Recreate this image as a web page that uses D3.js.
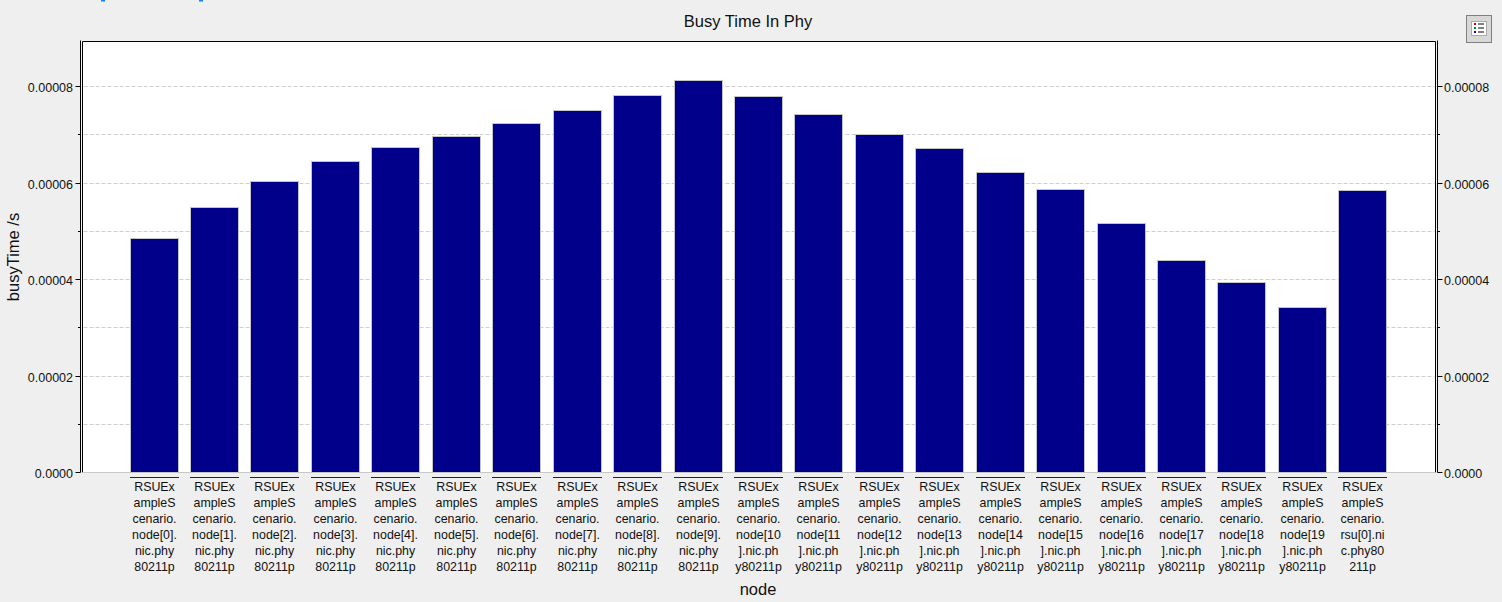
<!DOCTYPE html>
<html><head><meta charset="utf-8">
<style>html,body{margin:0;padding:0;background:#efefef;overflow:hidden}svg{display:block}text{font-family:"Liberation Sans",Arial,sans-serif;fill:#111}</style>
<script src="https://cdn.jsdelivr.net/npm/d3@7/dist/d3.min.js"></script>
</head><body><script>
const categories = [
 "RSUEx|ampleS|cenario.|node[0].|nic.phy|80211p","RSUEx|ampleS|cenario.|node[1].|nic.phy|80211p",
 "RSUEx|ampleS|cenario.|node[2].|nic.phy|80211p","RSUEx|ampleS|cenario.|node[3].|nic.phy|80211p",
 "RSUEx|ampleS|cenario.|node[4].|nic.phy|80211p","RSUEx|ampleS|cenario.|node[5].|nic.phy|80211p",
 "RSUEx|ampleS|cenario.|node[6].|nic.phy|80211p","RSUEx|ampleS|cenario.|node[7].|nic.phy|80211p",
 "RSUEx|ampleS|cenario.|node[8].|nic.phy|80211p","RSUEx|ampleS|cenario.|node[9].|nic.phy|80211p",
 "RSUEx|ampleS|cenario.|node[10|].nic.ph|y80211p","RSUEx|ampleS|cenario.|node[11|].nic.ph|y80211p",
 "RSUEx|ampleS|cenario.|node[12|].nic.ph|y80211p","RSUEx|ampleS|cenario.|node[13|].nic.ph|y80211p",
 "RSUEx|ampleS|cenario.|node[14|].nic.ph|y80211p","RSUEx|ampleS|cenario.|node[15|].nic.ph|y80211p",
 "RSUEx|ampleS|cenario.|node[16|].nic.ph|y80211p","RSUEx|ampleS|cenario.|node[17|].nic.ph|y80211p",
 "RSUEx|ampleS|cenario.|node[18|].nic.ph|y80211p","RSUEx|ampleS|cenario.|node[19|].nic.ph|y80211p",
 "RSUEx|ampleS|cenario.|rsu[0].ni|c.phy80|211p"];
const busyTime = [4.85,5.49,6.03,6.45,6.74,6.96,7.23,7.50,7.81,8.13,7.80,7.42,7.01,6.72,6.22,5.87,5.16,4.39,3.94,3.42,5.85].map(v=>v*1e-5);
const majorTicks = [0,2e-5,4e-5,6e-5,8e-5];
const minorTicks = [1e-5,3e-5,5e-5,7e-5];
const tickLabels = ["0.0000","0.00002","0.00004","0.00006","0.00008"];
const titleText = "Busy Time In Phy", xTitle = "node", yTitle = "busyTime /s";

const svg = d3.select("body").append("svg").attr("width",1502).attr("height",602);
const L=82.5,R=1435.5,T=41.5,B=472.5;
const x = d3.scaleBand().domain(categories.map((d,i)=>i)).range([129.6,1386.4]).paddingInner(0.205).paddingOuter(0);
const y = d3.scaleLinear().domain([0,431/48.25*1e-5]).range([B,T]);
const py = v=>Math.round(y(v)-0.5)+0.5;

svg.append("rect").attr("x",L).attr("y",T).attr("width",R-L).attr("height",B-T).attr("fill","#fff");

// grid
svg.append("g").selectAll("line").data([...majorTicks.slice(1),...minorTicks]).join("line")
 .attr("x1",L+1).attr("x2",R-1).attr("y1",py).attr("y2",py)
 .attr("stroke","#cfcfcf").attr("stroke-dasharray","4,2");

// frame
svg.append("line").attr("x1",L).attr("x2",R).attr("y1",T).attr("y2",T).attr("stroke","#000");
svg.append("line").attr("x1",L).attr("x2",L).attr("y1",T).attr("y2",B).attr("stroke","#000");
svg.append("line").attr("x1",R).attr("x2",R).attr("y1",T).attr("y2",B).attr("stroke","#000");
svg.append("line").attr("x1",L).attr("x2",R).attr("y1",B).attr("y2",B).attr("stroke","#c8c8c8");

// bars
svg.append("g").selectAll("rect").data(busyTime).join("rect")
 .attr("x",(d,i)=>Math.round(x(i))+0.5).attr("width",48)
 .attr("y",d=>py(d)).attr("height",d=>B-py(d))
 .attr("fill","#00008b").attr("stroke","#c4c4c4");

// left / right axes
function axis(side){
  const xa = side<0 ? 80.5 : 1437.5;
  const g = svg.append("g");
  g.append("line").attr("x1",xa).attr("x2",xa).attr("y1",T-1).attr("y2",B).attr("stroke","#000");
  g.selectAll(".mj").data(majorTicks).join("line").attr("x1",xa).attr("x2",xa+side*5).attr("y1",py).attr("y2",py).attr("stroke","#000");
  g.selectAll(".mn").data(minorTicks).join("line").attr("x1",xa).attr("x2",xa+side*2.5).attr("y1",py).attr("y2",py).attr("stroke","#000");
  g.selectAll("text").data(majorTicks).join("text")
   .attr("x",side<0?73:1444).attr("y",d=>py(d)+5)
   .attr("text-anchor",side<0?"end":"start").attr("font-size",12.5)
   .text((d,i)=>tickLabels[i]);
}
axis(-1); axis(1);

// category labels
const cg = svg.append("g").selectAll("g").data(categories).join("g")
 .attr("transform",(d,i)=>`translate(${Math.round(x(i))+24.5},0)`);
cg.append("line").attr("x1",-24.5).attr("x2",24.5).attr("y1",477.5).attr("y2",477.5).attr("stroke","#222");
cg.each(function(d){
  d3.select(this).selectAll("text").data(d.split("|")).join("text")
   .attr("y",(s,j)=>491+j*16).attr("text-anchor","middle").attr("font-size",12.4).text(s=>s);
});

// titles
svg.append("text").attr("x",748).attr("y",27).attr("text-anchor","middle").attr("font-size",16.5).text(titleText);
svg.append("text").attr("x",758).attr("y",595).attr("text-anchor","middle").attr("font-size",16.5).text(xTitle);
svg.append("text").attr("transform","translate(19,257) rotate(-90)").attr("text-anchor","middle").attr("font-size",16.5).text(yTitle);

// clipped marks at the very top edge and the legend button
svg.append("g").selectAll("rect").data([101,199]).join("rect").attr("x",d=>d).attr("y",0).attr("width",4).attr("height",1.5).attr("fill","#0a84ff");
const b = svg.append("g").attr("transform","translate(1466,15)");
b.append("rect").attr("x",.5).attr("y",.5).attr("width",25).attr("height",27).attr("fill","#d8d8d8").attr("stroke","#808080");
b.append("rect").attr("x",5.5).attr("y",6.5).attr("width",15).attr("height",14).attr("fill","#fff").attr("stroke","#aaa");
[["#e00000",8],["#00a000",12],["#0000e0",16]].forEach(([c,yy])=>{
  b.append("rect").attr("x",8).attr("y",yy).attr("width",2).attr("height",2).attr("fill",c);
  b.append("line").attr("x1",12).attr("x2",18).attr("y1",yy+1).attr("y2",yy+1).attr("stroke","#000");
});
</script></body></html>
